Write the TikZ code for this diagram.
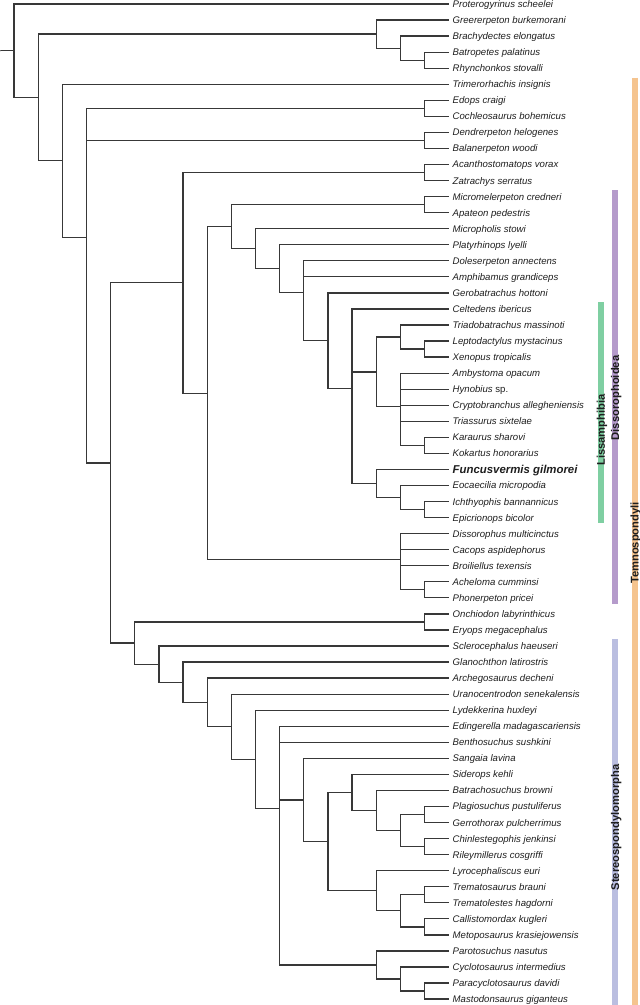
\documentclass[tikz,border=0pt]{standalone}
\usepackage{fontspec}
\setmainfont{Liberation Sans}
\definecolor{branchGray}{HTML}{383838}
\definecolor{labelGray}{HTML}{1E1E1E}
\definecolor{temnoOrange}{HTML}{F5C48F}
\definecolor{dissorPurple}{HTML}{B59BCB}
\definecolor{lissaGreen}{HTML}{7FCFA2}
\definecolor{stereoBlue}{HTML}{BABEE0}

\begin{document}
\begin{tikzpicture}
[x=1pt,y=-1pt,
  branchDecorate/.style={line width=1.25pt,draw=branchGray,to path={|- (\tikztotarget)}},%
  leafDecorate/.style={anchor=west,inner xsep=4pt,inner ysep=0pt,text height=6.9pt,
    text depth=0pt,text=labelGray,font=\fontsize{9.6}{11}\selectfont\itshape},%
  newDecorate/.style={leafDecorate,text height=8.2pt,
    font=\fontsize{11.4}{13}\selectfont\bfseries\itshape},%
  barDecorate/.style={line width=6pt},%
  cladeDecorate/.style={rotate=90,inner sep=0pt,text height=8pt,text depth=0pt,
    text=labelGray,font=\fontsize{11.2}{13}\selectfont\bfseries}]
\useasboundingbox (0,0) rectangle (640,1005);
%% clade bars
\draw[barDecorate,temnoOrange] (634.5,77.7) -- (634.5,1005);
\draw[barDecorate,dissorPurple] (615.2,190.3) -- (615.2,604);
\draw[barDecorate,lissaGreen] (600.9,302.3) -- (600.9,523.3);
\draw[barDecorate,stereoBlue] (615.2,639.3) -- (615.2,1005);
\node[cladeDecorate] (temnoLabel) at (634.5,543) {Temnospondyli};
\node[cladeDecorate] (dissorLabel) at (615.2,398) {Dissorophoidea};
\node[cladeDecorate] (lissaLabel) at (600.9,430) {Lissamphibia};
\node[cladeDecorate] (stereoLabel) at (615.2,827.5) {Stereospondylomorpha};
%% leaves
\foreach \i/\taxon in {
  1/Proterogyrinus scheelei, 2/Greererpeton burkemorani, 3/Brachydectes elongatus,
  4/Batropetes palatinus, 5/Rhynchonkos stovalli, 6/Trimerorhachis insignis,
  7/Edops craigi, 8/Cochleosaurus bohemicus, 9/Dendrerpeton helogenes,
  10/Balanerpeton woodi, 11/Acanthostomatops vorax, 12/Zatrachys serratus,
  13/Micromelerpeton credneri, 14/Apateon pedestris, 15/Micropholis stowi,
  16/Platyrhinops lyelli, 17/Doleserpeton annectens, 18/Amphibamus grandiceps,
  19/Gerobatrachus hottoni, 20/Celtedens ibericus, 21/Triadobatrachus massinoti,
  22/Leptodactylus mystacinus, 23/Xenopus tropicalis, 24/Ambystoma opacum,
  25/Hynobius \textup{sp.}, 26/Cryptobranchus allegheniensis, 27/Triassurus sixtelae,
  28/Karaurus sharovi, 29/Kokartus honorarius,
  31/Eocaecilia micropodia, 32/Ichthyophis bannannicus, 33/Epicrionops bicolor,
  34/Dissorophus multicinctus, 35/Cacops aspidephorus, 36/Broiliellus texensis,
  37/Acheloma cumminsi, 38/Phonerpeton pricei, 39/Onchiodon labyrinthicus,
  40/Eryops megacephalus, 41/Sclerocephalus haeuseri, 42/Glanochthon latirostris,
  43/Archegosaurus decheni, 44/Uranocentrodon senekalensis, 45/Lydekkerina huxleyi,
  46/Edingerella madagascariensis, 47/Benthosuchus sushkini, 48/Sangaia lavina,
  49/Siderops kehli, 50/Batrachosuchus browni, 51/Plagiosuchus pustuliferus,
  52/Gerrothorax pulcherrimus, 53/Chinlestegophis jenkinsi, 54/Rileymillerus cosgriffi,
  55/Lyrocephaliscus euri, 56/Trematosaurus brauni, 57/Trematolestes hagdorni,
  58/Callistomordax kugleri, 59/Metoposaurus krasiejowensis, 60/Parotosuchus nasutus,
  61/Cyclotosaurus intermedius, 62/Paracyclotosaurus davidi, 63/Mastodonsaurus giganteus}
{
  \coordinate (l\i) at (448.5,{4+16.05*(\i-1)});
  \node[leafDecorate] (t\i) at (l\i) {\taxon};
}
\coordinate (l30) at (448.5,{4+16.05*29});
\node[newDecorate] (t30) at (l30) {Funcusvermis gilmorei};
%% internal nodes: name/level/leaf position
\foreach \nodename/\level/\pos in {
  root/0/3.9102, A/1/6.8204, G1/15/2.875, G2/16/3.75, G3/17/4.5,
  temno/2/10.7658, C/3/15.5315, c1/17/7.5, c2/17/9.5, D/4/29.5945,
  E/7/18.3747, e1/17/11.5, dissor/8/25.2493, H/9/14.8736, h1/17/13.5,
  I/10/16.2472, J/11/17.4944, K/12/18.9889, L/13/21.9667, lissa/14/24.9333,
  N/15/23.925, P/16/21.75, p1/17/22.5, Q/16/26.1, q1/17/28.5,
  O/15/30.875, R/16/31.75, r1/17/32.5, dso/16/35.625, d1/17/37.5,
  F/5/40.8143, f1/17/39.5, stereo/6/42.1287, T/7/43.2573, U/8/44.5146,
  V/9/46.0293, W/10/48.0586, X/11/51.1172, Y/12/50.5938, AA/13/53.1875,
  AB/14/50.125, AD/15/51.25, AE/16/52.5, ae1/17/51.5, ae2/17/53.5,
  AC/15/56.25, AF/16/57.5, af1/17/56.5, af2/17/58.5,
  Z/15/60.875, AG/16/61.75, ag1/17/62.5}
{
  \coordinate (\nodename) at ({14+24.15*\level},{4+16.05*(\pos-1)});
}
\coordinate (base) at (0,50.7);
%% branches
\path
\foreach \startnode/\endnode in {
  base/root, root/l1, root/A, A/G1, A/temno, G1/l2, G1/G2, G2/l3, G2/G3, G3/l4, G3/l5,
  temno/l6, temno/C, C/c1, C/c2, C/D, c1/l7, c1/l8, c2/l9, c2/l10,
  D/E, D/F, E/e1, E/dissor, e1/l11, e1/l12, dissor/H, dissor/dso,
  H/h1, H/I, h1/l13, h1/l14, I/l15, I/J, J/l16, J/K, K/l17, K/l18, K/L,
  L/l19, L/lissa, lissa/l20, lissa/N, lissa/O, N/P, N/Q, P/l21, P/p1, p1/l22, p1/l23,
  Q/l24, Q/l25, Q/l26, Q/l27, Q/q1, q1/l28, q1/l29, O/l30, O/R, R/l31, R/r1, r1/l32, r1/l33,
  dso/l34, dso/l35, dso/l36, dso/d1, d1/l37, d1/l38,
  F/f1, F/stereo, f1/l39, f1/l40, stereo/l41, stereo/T, T/l42, T/U, U/l43, U/V,
  V/l44, V/W, W/l45, W/X, X/l46, X/l47, X/Y, X/Z, Y/l48, Y/AA, AA/AB, AA/AC,
  AB/l49, AB/AD, AD/l50, AD/AE, AE/ae1, AE/ae2, ae1/l51, ae1/l52, ae2/l53, ae2/l54,
  AC/l55, AC/AF, AF/af1, AF/af2, af1/l56, af1/l57, af2/l58, af2/l59,
  Z/l60, Z/AG, AG/l61, AG/ag1, ag1/l62, ag1/l63}
{
  (\startnode) edge[branchDecorate] (\endnode)
};
\end{tikzpicture}
\end{document}
